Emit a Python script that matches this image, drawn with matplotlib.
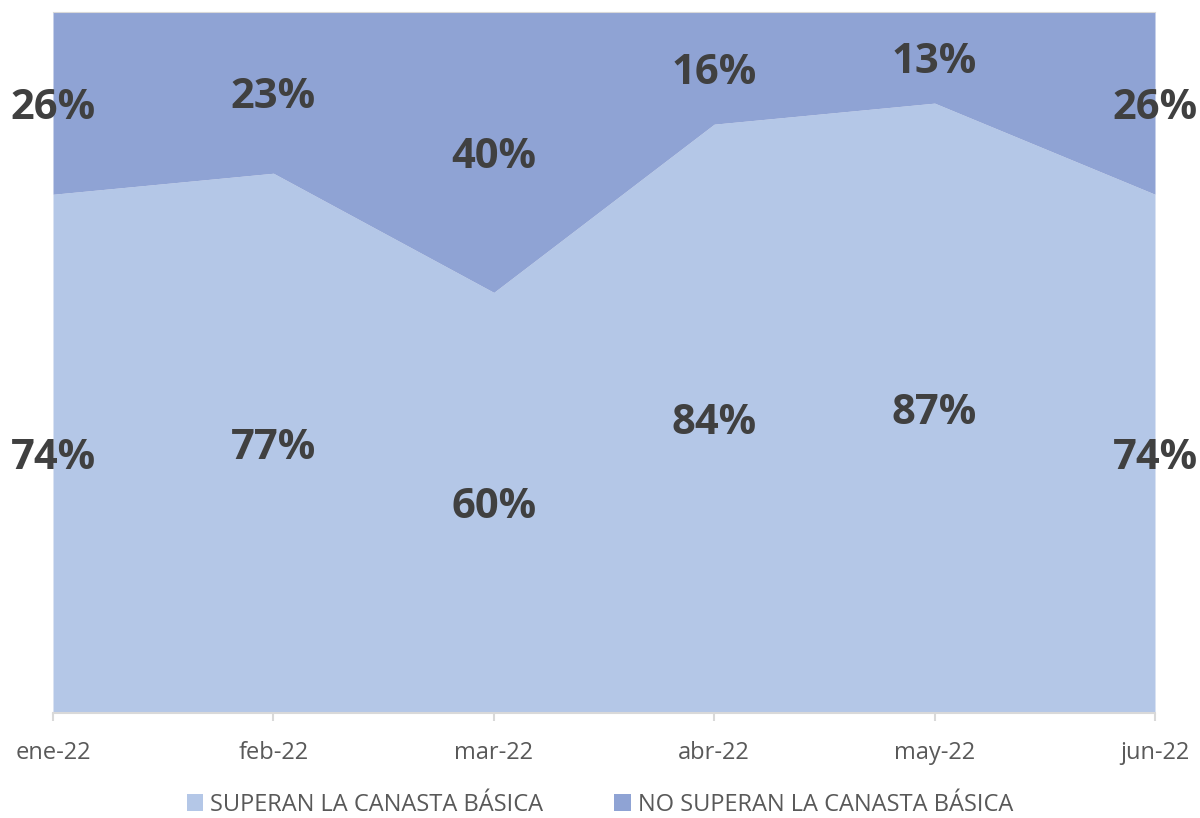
import numpy as np
import matplotlib.pyplot as plt

months = ['ene-22', 'feb-22', 'mar-22', 'abr-22', 'may-22', 'jun-22']
superan = [74, 77, 60, 84, 87, 74]
no_superan = [26, 23, 40, 16, 13, 26]
series_names = ['SUPERAN LA CANASTA BÁSICA', 'NO SUPERAN LA CANASTA BÁSICA']
colors = ['#B4C7E7', '#8FA3D4']

plt.rcParams['font.family'] = ['Open Sans', 'DejaVu Sans']

fig = plt.figure(figsize=(12, 8.18), dpi=100)
ax = fig.add_axes([53/1200, 1-713/818, (1155-53)/1200, (713-12)/818])

x = np.arange(len(months))
lo = np.array(superan, dtype=float)
hi = np.array(no_superan, dtype=float)
ax.fill_between(x, 0, lo, color=colors[0], lw=0, label=series_names[0])
ax.fill_between(x, lo, lo + hi, color=colors[1], lw=0, label=series_names[1])

for i in range(len(x)):
    ax.text(x[i], lo[i] / 2, f'{superan[i]}%', ha='center', va='center_baseline',
            fontsize=30, fontweight='bold', color='#404040')
    ax.text(x[i], lo[i] + hi[i] / 2, f'{no_superan[i]}%', ha='center', va='center_baseline',
            fontsize=30, fontweight='bold', color='#404040')

ax.set_xlim(0, len(x) - 1)
ax.set_ylim(0, 100)
ax.set_yticks([])
ax.set_xticks(x)
ax.set_xticklabels(months, fontsize=17, color='#595959')
ax.tick_params(axis='x', length=6, color='#D9D9D9', width=1.5, pad=14)
for s in ['left', 'right']:
    ax.spines[s].set_visible(False)
ax.spines['top'].set_color('#D9D9D9')
ax.spines['bottom'].set_color('#D9D9D9')
ax.spines['bottom'].set_linewidth(1.5)

leg = fig.legend(loc='center', bbox_to_anchor=(0.5, 1-805/818), ncol=2, frameon=False,
                 fontsize=17, handlelength=0.7, handleheight=0.7, handletextpad=0.3,
                 columnspacing=3)
for t in leg.get_texts():
    t.set_color('#595959')

fig.savefig('out.png', dpi=100)
